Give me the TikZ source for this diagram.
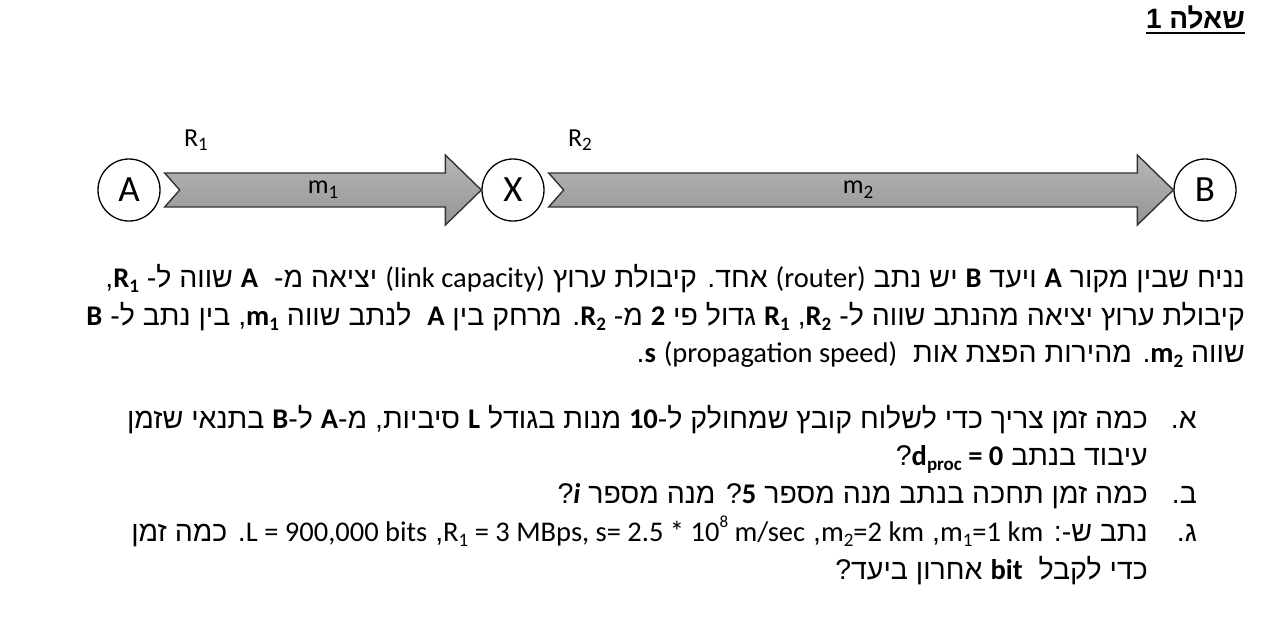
\documentclass[tikz,border=0pt]{standalone}
\usepackage{fontspec}
\setmainfont{Liberation Sans}[Script=Hebrew]
\newfontfamily\latf{Carlito}
\TeXXeTstate=1
\usetikzlibrary{calc}
\newcommand\mylr[1]{\beginL{\latf#1}\endL}
\newcommand\msub[1]{\raisebox{-0.18em}{\fontsize{19}{19}\selectfont#1}}
\newcommand\msup[1]{\raisebox{0.48em}{\fontsize{17}{17}\selectfont#1}}
\tikzset{
  txt/.style={inner sep=0pt, anchor=base east, font=\fontsize{28.5}{34}\selectfont},
  circ/.style={circle, draw=black, line width=1.3pt, minimum size=62pt, inner sep=0pt, font=\latf\fontsize{37}{40}\selectfont},
  lbl/.style={inner sep=0pt, font=\latf\fontsize{26}{30}\selectfont},
  arrowbody/.style={draw=black!80, line width=1.4pt, line join=miter, top color=black!28, bottom color=black!42}
}
\begin{document}
\begin{tikzpicture}[x=1pt,y=-1pt]
\useasboundingbox (0,0) rectangle (1272,632);
% title
\node[txt, font=\fontsize{28}{34}\selectfont\bfseries] (title) at (1245,28) {\beginR שאלה 1\endR};
\draw[line width=2pt] ($(title.base west)+(0,4.5)$) -- ($(title.base east)+(0,4.5)$);
% diagram
\node[circ] (A) at (129,190) {A};
\node[circ] (X) at (513,190) {X};
\node[circ] (B) at (1205,190) {B};
\path[arrowbody] let \p1=(A.east), \p2=(X.west) in
  (\x1+4,\y1-17) -- (\x2-36,\y1-17) -- (\x2-36,\y1-35) -- (\x2,\y1) -- (\x2-36,\y1+35) -- (\x2-36,\y1+17) -- (\x1+4,\y1+17) -- (\x1+19,\y1) -- cycle;
\path[arrowbody] let \p1=(X.east), \p2=(B.west) in
  (\x1+4,\y1-17) -- (\x2-36,\y1-17) -- (\x2-36,\y1-35) -- (\x2,\y1) -- (\x2-36,\y1+35) -- (\x2-36,\y1+17) -- (\x1+4,\y1+17) -- (\x1+19,\y1) -- cycle;
\node[lbl] (r1) at (196,140) {R\msub{1}};
\node[lbl] (r2) at (580,140) {R\msub{2}};
\node[lbl] (m1) at (323,190) {m\msub{1}};
\node[lbl] (m2) at (858,190) {m\msub{2}};
% paragraph
\node[txt] (p1) at (1245,287) {\beginR נניח שבין מקור \mylr{\textbf{A}} ויעד \mylr{\textbf{B}} יש נתב \mylr{(router)} אחד. קיבולת ערוץ \mylr{(link capacity)} יציאה מ-\ \ \mylr{\textbf{A}} שווה ל- \mylr{\textbf{R\msub{1}}},\endR};
\node[txt] (p2) at (1245,325) {\beginR קיבולת ערוץ יציאה מהנתב שווה ל- \mylr{\textbf{R\msub{2}}}, \mylr{\textbf{R\msub{1}}} גדול פי \mylr{\textbf{2}} מ- \mylr{\textbf{R\msub{2}}}. מרחק בין \mylr{\textbf{A}}\ \ לנתב שווה \mylr{\textbf{m\msub{1}}}, בין נתב ל- \mylr{\textbf{B}}\endR};
\node[txt] (p3) at (1245,362) {\beginR שווה \mylr{\textbf{m\msub{2}}}. מהירות הפצת אות\ \ \mylr{(propagation speed)} \mylr{\textbf{s}}.\endR};
% items
\node[txt] (ka) at (1197,428) {\beginR א.\endR};
\node[txt] (ta1) at (1148,428) {\beginR כמה זמן צריך כדי לשלוח קובץ שמחולק ל-\mylr{\textbf{10}} מנות בגודל \mylr{\textbf{L}} סיביות, מ-\mylr{\textbf{A}} ל-\mylr{\textbf{B}} בתנאי שזמן\endR};
\node[txt] (ta2) at (1148,465) {\beginR עיבוד בנתב \mylr{\textbf{d\msub{proc} = 0}}?\endR};
\node[txt] (kb) at (1197,503) {\beginR ב.\endR};
\node[txt] (tb1) at (1148,503) {\beginR כמה זמן תחכה בנתב מנה מספר \mylr{\textbf{5}}? מנה מספר \mylr{\textbf{\textit{i}}}?\endR};
\node[txt] (kc) at (1197,541) {\beginR ג.\endR};
\node[txt] (tc1) at (1148,541) {\beginR נתב ש-: \mylr{m\msub{1}=1 km}, \mylr{m\msub{2}=2 km}, \mylr{R\msub{1} = 3 MBps, s= 2.5 * 10\msup{8} m/sec}, \mylr{L = 900,000 bits}. כמה זמן\endR};
\node[txt] (tc2) at (1148,579) {\beginR כדי לקבל\ \ \mylr{\textbf{bit}} אחרון ביעד?\endR};
\end{tikzpicture}
\end{document}
